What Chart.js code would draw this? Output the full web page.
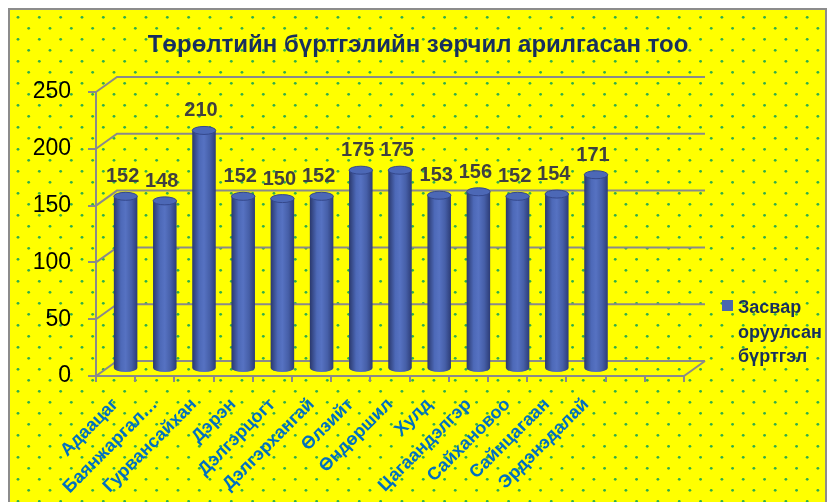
<!DOCTYPE html>
<html>
<head>
<meta charset="utf-8">
<script src="https://cdn.jsdelivr.net/npm/chart.js@4/dist/chart.umd.min.js"></script>
<style>
  body { margin: 0; background: #fff; }
  #wrap { width: 836px; height: 502px; }
</style>
</head>
<body>
<div id="wrap"><canvas id="chart" width="836" height="502"></canvas></div>
<script>
// data
const titleText = 'Төрөлтийн бүртгэлийн зөрчил арилгасан тоо';
const seriesName = 'Засвар оруулсан бүртгэл';
const legendLines = ['Засвар', 'оруулсан', 'бүртгэл'];
const categories = ['Адаацаг', 'Баянжаргал…', 'Гурвансайхан', 'Дэрэн', 'Дэлгэрцогт', 'Дэлгэрхангай',
    'Өлзийт', 'Өндөршил', 'Хулд', 'Цагаандэлгэр', 'Сайхановоо', 'Сайнцагаан', 'Эрдэнэдалай'];
const emptySlots = ['', ''];
const values = [152, 148, 210, 152, 150, 152, 175, 175, 153, 156, 152, 154, 171];
const yMin = 0, yMax = 250, yStep = 50;

const FONT = '"Liberation Sans", Arial, sans-serif';
const wallDx = 21, wallDy = -15;
const barDx = 10, barDy = -7;

function barGradient(ctx, x, w) {
    const g = ctx.createLinearGradient(x - w / 2, 0, x + w / 2, 0);
    g.addColorStop(0, '#2a386c');
    g.addColorStop(0.3, '#4d69b8');
    g.addColorStop(0.5, '#5672c2');
    g.addColorStop(0.75, '#465fa8');
    g.addColorStop(1, '#2c3c76');
    return g;
}

const backdrop = {
    id: 'backdrop',
    beforeDraw(chart) {
        const ctx = chart.ctx;
        ctx.save();
        ctx.fillStyle = '#ffffff';
        ctx.fillRect(0, 0, chart.width, chart.height);
        ctx.fillStyle = '#ffff00';
        ctx.fillRect(10, 10, 816, 492);
        ctx.fillStyle = '#2fae4c';
        for (let r = 0; 17.3 + r * 11 < 502; r++) {
            const y = 17.3 + r * 11;
            for (let x = 18 + (r % 2) * 10.67; x < 824; x += 21.33) {
                ctx.beginPath();
                ctx.arc(x, y, 1.4, 0, Math.PI * 2);
                ctx.fill();
            }
        }
        ctx.strokeStyle = '#8c8c8c';
        ctx.lineWidth = 2;
        ctx.strokeRect(9, 9, 817, 500);
        ctx.restore();
    }
};

const walls = {
    id: 'walls',
    beforeDatasetsDraw(chart) {
        const ctx = chart.ctx;
        const {left, right, bottom} = chart.chartArea;
        const ys = chart.scales.y;
        ctx.save();
        ctx.strokeStyle = '#8a8a8a';
        ctx.lineWidth = 2;
        for (let v = yMin; v <= yMax; v += yStep) {
            const y = ys.getPixelForValue(v);
            ctx.beginPath();
            ctx.moveTo(left, y);
            ctx.lineTo(left + wallDx, y + wallDy);
            ctx.lineTo(right + wallDx, y + wallDy);
            ctx.stroke();
        }
        ctx.beginPath();
        ctx.moveTo(right, bottom);
        ctx.lineTo(right + wallDx, bottom + wallDy);
        ctx.stroke();
        ctx.restore();

        // bars sit half way into the depth
        ctx.save();
        ctx.translate(barDx, barDy);
    },
    afterDatasetsDraw(chart) {
        const ctx = chart.ctx;
        const meta = chart.getDatasetMeta(0);
        meta.data.forEach((el, i) => {
            if (values[i] == null) return;
            const {x, y, base, width} = el.getProps(['x', 'y', 'base', 'width'], true);
            const rx = width / 2, ry = 4;
            ctx.fillStyle = barGradient(ctx, x, width);
            ctx.beginPath();
            ctx.ellipse(x, base, rx, ry, 0, 0, Math.PI);
            ctx.fill();
            ctx.beginPath();
            ctx.ellipse(x, y, rx, ry, 0, 0, Math.PI * 2);
            ctx.fillStyle = '#4c68b6';
            ctx.fill();
            ctx.strokeStyle = '#34488c';
            ctx.lineWidth = 1;
            ctx.stroke();

            ctx.fillStyle = '#404040';
            ctx.font = 'bold 20px ' + FONT;
            ctx.textAlign = 'center';
            ctx.textBaseline = 'alphabetic';
            ctx.fillText(String(values[i]), x - 3, y - 14);
        });
        ctx.restore();
    },
    afterDraw(chart) {
        const ctx = chart.ctx;
        ctx.save();
        ctx.fillStyle = '#172f5e';
        ctx.font = 'bold 24px ' + FONT;
        ctx.textAlign = 'center';
        ctx.textBaseline = 'alphabetic';
        ctx.fillText(titleText, 418, 52);

        ctx.fillStyle = '#4a66ae';
        ctx.fillRect(722, 300, 11, 11);
        ctx.fillStyle = '#172f5e';
        ctx.font = 'bold 18px ' + FONT;
        ctx.textAlign = 'left';
        legendLines.forEach((t, k) => ctx.fillText(t, 738, 313 + k * 24.5));
        ctx.restore();
    }
};

new Chart(document.getElementById('chart').getContext('2d'), {
    type: 'bar',
    data: {
        labels: categories.concat(emptySlots),
        datasets: [{
            label: seriesName,
            data: values,
            backgroundColor: (c) => {
                const ch = c.chart;
                if (!ch.chartArea || c.dataIndex == null) return '#4a66ae';
                const x = ch.scales.x.getPixelForValue(c.dataIndex);
                const w = (ch.chartArea.width / (categories.length + emptySlots.length)) * 0.6;
                return barGradient(ch.ctx, x, w);
            },
            borderWidth: 0,
            barPercentage: 0.6,
            categoryPercentage: 1.0,
            clip: false
        }]
    },
    options: {
        responsive: false,
        animation: false,
        layout: {
            autoPadding: false,
            padding: {left: 0, top: 92, right: 152, bottom: 0}
        },
        plugins: {
            legend: {display: false},
            title: {display: false},
            tooltip: {enabled: false}
        },
        scales: {
            x: {
                afterFit: (s) => { s.height = 126; },
                grid: {display: true, drawOnChartArea: false, color: '#8a8a8a', lineWidth: 2, tickLength: 6},
                border: {color: '#8a8a8a', width: 2},
                ticks: {
                    autoSkip: false,
                    minRotation: 45,
                    maxRotation: 45,
                    padding: 12,
                    color: '#0070c0',
                    font: {family: FONT, size: 18, weight: 'bold'}
                }
            },
            y: {
                min: yMin,
                max: yMax,
                afterFit: (s) => { s.width = 96; },
                grid: {display: true, drawOnChartArea: false, color: '#8a8a8a', lineWidth: 2, tickLength: 8},
                border: {color: '#8a8a8a', width: 2},
                ticks: {
                    stepSize: yStep,
                    padding: 17,
                    color: '#000000',
                    font: {family: FONT, size: 23}
                }
            }
        }
    },
    plugins: [backdrop, walls]
});
</script>
</body>
</html>
